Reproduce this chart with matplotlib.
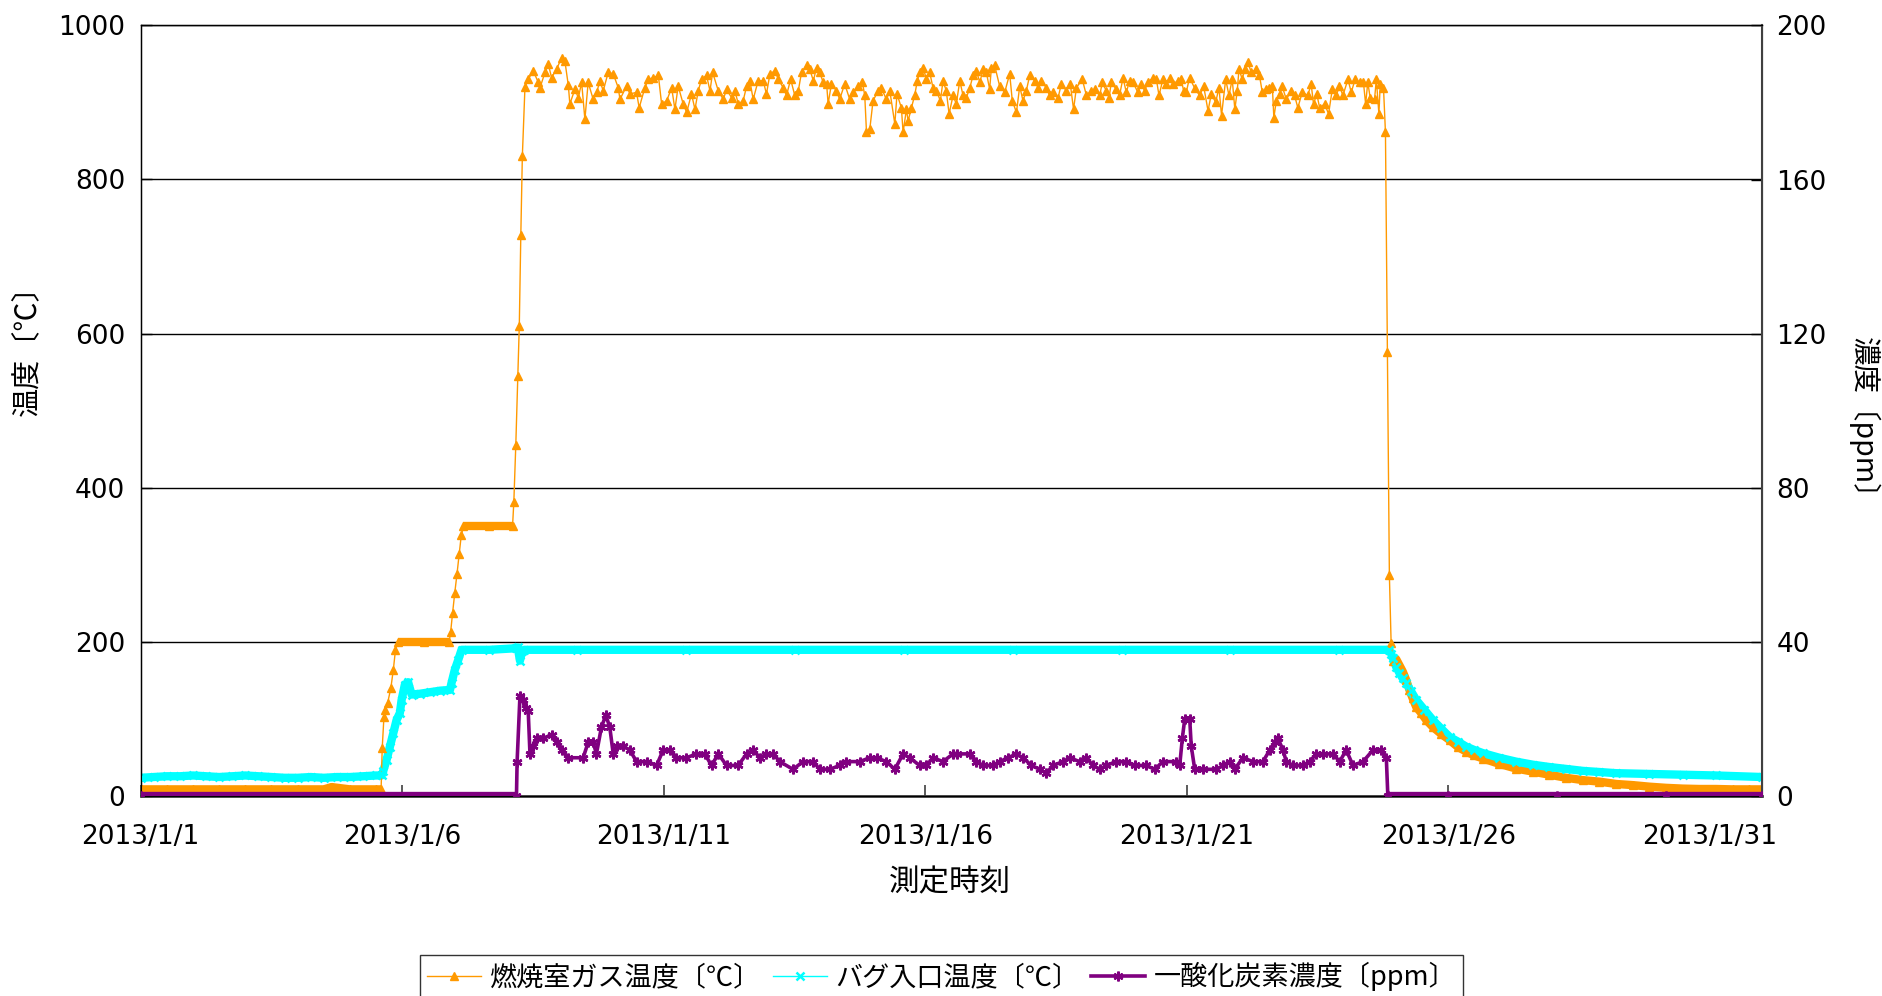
import numpy as np
import matplotlib
matplotlib.use("Agg")
import matplotlib.pyplot as plt

plt.rcParams['font.family'] = ['Noto Sans CJK JP', 'DejaVu Sans']

# ---------------- data (time in hours from 2013/1/1 00:00) ----------------
x_tick_days = [0, 5, 10, 15, 20, 25, 30]
x_tick_labels = ['2013/1/1', '2013/1/6', '2013/1/11', '2013/1/16',
                 '2013/1/21', '2013/1/26', '2013/1/31']

# 燃焼室ガス温度 [°C]
comb_start_h = [0, 12, 24, 36, 48, 60, 72, 84, 87.6, 96, 108, 110.3,
                110.8, 111.6, 112.3, 113.3, 114.8, 115.9, 116.9, 118.1, 130, 141.5,
                142.2, 143.1, 144.1, 145.1, 146.1, 147.1, 148.1, 160, 170.6,
                171.2, 172.1, 173.0, 173.7, 174.4, 175.1, 176.3]
comb_start_v = [9, 9, 9, 9, 9, 9, 9, 9, 12, 9, 9, 9,
                62, 103, 112, 121, 141, 164, 190, 200, 200, 200,
                213, 238, 264, 288, 314, 339, 350, 350, 350,
                382, 456, 545, 610, 728, 830, 920]

comb_burn_h = [177.8, 180.1, 182.4, 183.2, 185.5, 187.0, 188.5, 190.8, 193.1, 194.6,
               196.2, 196.9, 199.2, 200.8, 202.3, 203.8, 205.3, 207.6, 209.2, 210.7,
               212.2, 214.5, 216.8, 219.1, 219.9, 222.9, 224.5, 227.5, 228.7, 231.3,
               232.9, 235.2, 237.5, 239.0, 241.3, 243.6, 245.1, 246.6, 248.9, 250.5,
               252.7, 254.3, 255.8, 257.3, 259.6, 261.2, 262.4, 265.0, 267.3, 268.8,
               271.1, 272.6, 274.2, 276.4, 278.0, 279.5, 281.0, 283.3, 285.6, 287.1,
               288.7, 291.0, 292.5, 294.8, 296.3, 298.2, 300.1, 301.7, 303.2, 305.5,
               307.0, 308.6, 310.1, 311.6, 313.1, 314.7, 315.4,
               316.9, 319.2, 320.7, 323.0, 325.3, 326.8, 329.1, 331.1, 332.2, 333.0,
               334.5, 336.0, 338.3, 339.8, 342.1, 343.7, 346.0, 347.0, 349.0, 349.8,
               351.3, 352.1, 353.6, 355.1, 356.3, 357.4, 359.0, 360.5, 362.0, 363.5,
               365.1, 366.9, 368.1, 369.6, 370.9, 372.7, 374.2, 375.8, 377.3, 378.8,
               380.4, 381.9, 383.4, 385.0, 386.5, 388.0, 389.5, 390.3, 391.8, 394.1,
               396.4, 398.7, 399.9, 401.8, 403.3, 404.8, 406.3, 407.9, 410.2, 411.7,
               413.2, 415.5, 417.0, 418.6, 420.9, 422.4, 424.7, 426.5, 428.0, 429.3,
               432.0, 433.9, 436.2, 437.7, 440.0, 441.2, 443.0, 444.3, 445.3, 447.6,
               449.1, 450.7, 452.2,
               453.7, 455.3, 457.5, 459.1, 460.6, 462.1, 464.4, 466.0, 467.2, 469.0,
               470.5, 472.1, 473.6, 475.9, 477.4, 478.5, 479.7, 481.2, 483.5, 485.8,
               487.7, 489.7, 491.2, 493.2, 494.7, 495.9, 497.8, 499.3, 500.8, 502.0,
               503.1, 503.9, 505.4, 506.5, 508.0, 509.5, 511.8, 513.3, 514.6, 516.4,
               517.9, 519.2, 519.9, 521.0, 522.5, 523.7, 525.6, 527.9, 529.4, 530.9,
               532.9, 535.5, 537.0, 538.1, 539.6, 540.9, 543.2, 545.0, 546.7, 548.5,
               550.0, 551.6, 553.9, 555.4, 557.2, 559.2, 561.0, 562.0, 563.0, 564.1,
               566.1, 566.9, 568.1, 568.7, 570.2, 571.1]
comb_burn_v = [930, 941, 926, 919, 939, 950, 932, 943, 958, 954,
               922, 898, 917, 906, 926, 878, 926, 904, 913, 928,
               915, 939, 937, 919, 904, 921, 911, 913, 893, 919,
               930, 932, 935, 898, 902, 919, 891, 921, 898, 887,
               911, 891, 915, 930, 935, 915, 939, 915, 904, 917,
               906, 915, 898, 902, 921, 928, 904, 928, 928, 911,
               937, 941, 930, 919, 909, 930, 909, 915, 939, 948,
               943, 928, 945, 939, 926, 924, 898,
               924, 915, 904, 924, 904, 913, 921, 926, 909, 861,
               865, 902, 915, 919, 904, 915, 872, 911, 893, 861,
               891, 876, 893, 909, 928, 939, 945, 930, 939, 919,
               915, 902, 928, 915, 885, 909, 898, 928, 909, 906,
               919, 935, 941, 926, 943, 939, 917, 945, 948, 921,
               913, 937, 902, 887, 921, 902, 915, 935, 928, 919,
               928, 919, 909, 913, 906, 924, 915, 924, 891, 919,
               930, 909, 915, 917, 909, 926, 915, 906, 926, 917,
               909, 932, 913,
               928, 926, 913, 924, 915, 926, 932, 930, 909, 930,
               924, 932, 924, 928, 930, 915, 913, 932, 919, 909,
               921, 889, 911, 900, 919, 883, 930, 909, 930, 891,
               915, 943, 930, 943, 952, 939, 943, 935, 913, 917,
               919, 921, 880, 902, 911, 921, 904, 915, 909, 893,
               913, 909, 924, 898, 911, 893, 898, 885, 917, 909,
               921, 909, 930, 913, 930, 926, 926, 898, 926, 906,
               904, 930, 885, 924, 919, 861]

comb_cool_h = [572.0, 572.9, 573.7, 574.5, 576.0, 577.5, 579.0, 580.6, 582.1, 583.6,
               585.2, 587.5, 589.8, 592.8, 596.6, 600.5, 604.3, 608.1, 611.9, 615.8,
               623.4, 631.0, 638.7, 646.3, 654.0, 661.6, 669.3, 676.9, 684.6, 692.2,
               699.8, 707.5, 715.1, 722.8, 730.4, 738.1, 744.0]
comb_cool_v = [576, 287, 199, 175, 178, 170, 162, 151, 138, 127,
               116, 108, 99, 90, 81, 73, 64, 58, 53, 49,
               42, 36, 32, 28, 24, 21, 19, 16, 14.5, 12.5,
               11, 10, 9.5, 9.5, 9, 9, 9]

# バグ入口温度 [°C]
bag_h = [0, 6, 12, 18, 24, 30, 36, 42, 48, 54, 60, 66, 72, 78, 84, 90, 96, 102, 108, 110.5,
         111.3, 112.8, 114.3, 115.9, 117.4, 118.9, 119.7, 121.2, 122.7, 124.3,
         128.1, 132.7, 137.3, 141.9, 142.6, 144.1, 145.7, 147.2, 160, 172, 173, 174, 175, 176,
         200, 250, 300, 350, 400, 450, 500, 550, 572.9,
         573.7, 574.5, 576.0, 577.5, 579.0, 580.6, 582.9, 585.2, 589.0, 592.8,
         596.6, 600.5, 604.3, 608.1, 611.9, 615.8, 623.4, 631.0, 638.7, 646.3,
         654.0, 661.6, 669.3, 676.9, 692.2, 707.5, 722.8, 744.0]
bag_v = [24, 25, 26, 26, 27, 26, 25, 26, 27, 26, 25, 24, 24, 25, 24, 25, 25, 26, 27, 27,
         33, 47, 64, 82, 99, 108, 125, 145, 148, 132,
         133, 135, 137, 138, 147, 164, 177, 190, 190, 192, 193, 176, 188, 190,
         190, 190, 190, 190, 190, 190, 190, 190, 190,
         185, 179, 168, 160, 153, 147, 136, 125, 112, 99,
         88, 77, 71, 64.5, 60, 56, 50, 45, 41, 38,
         35.5, 33, 31.5, 30, 29, 28, 27, 25]

# 一酸化炭素濃度 [ppm]
co_h = [0, 172.4, 172.7, 174.0, 175.5, 176.7, 177.8, 178.6, 180.1, 181.6, 184.7,
        188.5, 190.8, 193.1, 196.1, 203.0, 205.3, 207.6, 209.1, 211.4, 213.4,
        215.2, 216.8, 218.3, 221.4, 224.4, 227.5, 232.1, 236.7, 239.7, 242.8,
        245.8, 250.4, 255.0, 258.8, 261.9, 265.0, 268.8, 274.1, 278.0, 281.0,
        284.1, 287.1, 290.2, 293.2, 299.3, 303.9, 308.5, 311.6, 316.2, 320.7,
        323.8, 329.9, 334.5, 337.6, 342.1, 346.0, 349.8, 352.8, 357.4, 360.5,
        363.5, 368.1, 372.7, 374.3, 380.4, 383.4, 386.5, 391.1, 394.1, 398.0,
        401.8, 404.8, 408.7, 412.5, 415.5, 418.6, 423.2, 426.2, 430.8, 433.9,
        436.9, 440.0, 443.0, 447.6, 452.2, 456.0, 461.4, 465.2, 469.0, 475.2,
        476.7, 477.9, 479.0, 481.3, 482.0, 483.6, 487.4, 493.5, 496.6, 499.6,
        501.9, 505.7, 510.3, 514.9, 518.0, 520.3, 521.8, 524.1, 525.6, 528.7,
        533.3, 536.3, 539.4, 542.4, 547.0, 550.1, 553.1, 556.2, 560.8, 565.4,
        569.2, 571.5, 572.2, 600, 650, 700, 744]
co_v = [0, 0, 9, 26, 25, 23, 22, 11, 13, 15, 15,
        16, 14, 12, 10, 10, 14, 14, 11, 18, 21,
        18, 11, 13, 13, 12, 9, 9, 8, 12, 12,
        10, 10, 11, 11, 8, 11, 8, 8, 11, 12,
        10, 11, 11, 9, 7, 9, 9, 7, 7, 8,
        9, 9, 10, 10, 9, 7, 11, 10, 8, 8,
        10, 9, 11, 11, 11, 9, 8, 8, 9, 10,
        11, 10, 8, 7, 6, 8, 9, 10, 9, 10,
        8, 7, 8, 9, 9, 8, 8, 7, 9, 9,
        8, 15, 20, 20, 13, 7, 7, 7, 8, 9,
        7, 10, 9, 9, 12, 14, 15, 12, 9, 8,
        8, 9, 11, 11, 11, 9, 12, 8, 9, 12,
        12, 10, 0, 0, 0, 0, 0]

# ---------------- build ----------------
comb_h = np.array(comb_start_h + comb_burn_h + comb_cool_h) / 24.0
comb_v = np.array(comb_start_v + comb_burn_v + comb_cool_v, dtype=float)
bag_x = np.array(bag_h) / 24.0
bag_y = np.array(bag_v, dtype=float)
co_x = np.array(co_h) / 24.0
co_y = np.array(co_v, dtype=float)

ORANGE = '#FF9900'
CYAN = '#00FFFF'
PURPLE = '#800080'

W, H = 1883, 996
fig = plt.figure(figsize=(W / 100, H / 100), dpi=100)
L, R, T, B = 140.7, 1762.3, 25.3, 796.3
ax = fig.add_axes([L / W, 1 - B / H, (R - L) / W, (B - T) / H])
ax2 = ax.twinx()


def band(axis, x, y, spans, color, lw):
    for a, b in spans:
        m = (x >= a / 24.0) & (x <= b / 24.0)
        axis.plot(x[m], y[m], color=color, lw=lw, solid_capstyle='butt', zorder=2)


band(ax, comb_h, comb_v, [(0, 110.3), (118.1, 141.5), (148.1, 170.6), (574.5, 744)], ORANGE, 6)
l1, = ax.plot(comb_h, comb_v, color=ORANGE, lw=1.0, marker='^', ms=6,
              mec=ORANGE, mfc=ORANGE, zorder=3)
band(ax, bag_x, bag_y, [(0, 744)], CYAN, 6)
l2, = ax.plot(bag_x, bag_y, color=CYAN, lw=1.0, marker='x', ms=5.5, mew=1.8,
              mec=CYAN, zorder=4)
band(ax2, co_x, co_y, [(0, 172.4), (572.2, 744)], PURPLE, 6)
l3, = ax2.plot(co_x, co_y, color=PURPLE, lw=2.6, marker=(6, 2, 0), ms=7, mew=1.8,
               mec=PURPLE, zorder=3)

ax.set_xlim(0, 31)
ax.set_ylim(0, 1000)
ax2.set_ylim(0, 200)
ax.set_yticks(np.arange(0, 1001, 200))
ax2.set_yticks(np.arange(0, 201, 40))
ax.set_xticks(x_tick_days)
ax.set_xticklabels(x_tick_labels)

ax.yaxis.grid(True, color='black', lw=1.0)
ax.set_axisbelow(True)

for lab in ax.get_xticklabels() + ax.get_yticklabels() + ax2.get_yticklabels():
    lab.set_fontfamily('DejaVu Sans')
    lab.set_fontsize(19)
ax.tick_params(axis='x', direction='in', length=8, width=1.2, pad=20, colors='#404040',
               labelcolor='black')
ax.tick_params(axis='y', direction='in', length=8, width=1, pad=11, labelcolor='black')
ax2.tick_params(axis='y', direction='in', length=8, width=1, pad=10, labelcolor='black')

for sp in ['left', 'top']:
    ax.spines[sp].set_color('black')
    ax.spines[sp].set_linewidth(1.0)
ax.spines['bottom'].set_color('#404040')
ax.spines['bottom'].set_linewidth(2.0)
ax2.spines['right'].set_color('#404040')
ax2.spines['right'].set_linewidth(1.5)

fig.text(27 / W, 1 - 343 / H, '温度〔℃〕', rotation=90, ha='center', va='center', fontsize=21)
fig.text(1864 / W, 1 - 425 / H, '濃度〔ppm〕', rotation=270, ha='center', va='center', fontsize=20.5)
fig.text(950 / W, 1 - 883 / H, '測定時刻', ha='center', va='center', fontsize=22)

leg = fig.legend([l1, l2, l3], ['燃焼室ガス温度〔℃〕', 'バグ入口温度〔℃〕', '一酸化炭素濃度〔ppm〕'],
                 loc='upper center', bbox_to_anchor=(0.5, 1 - 955 / H), ncol=3,
                 fontsize=19.5, frameon=True, fancybox=False, shadow=False,
                 edgecolor='black', handlelength=2.0, handletextpad=0.3,
                 columnspacing=0.45, borderpad=0.25, borderaxespad=0)
leg.get_frame().set_linewidth(1.0)

fig.savefig('out.png', dpi=100)
